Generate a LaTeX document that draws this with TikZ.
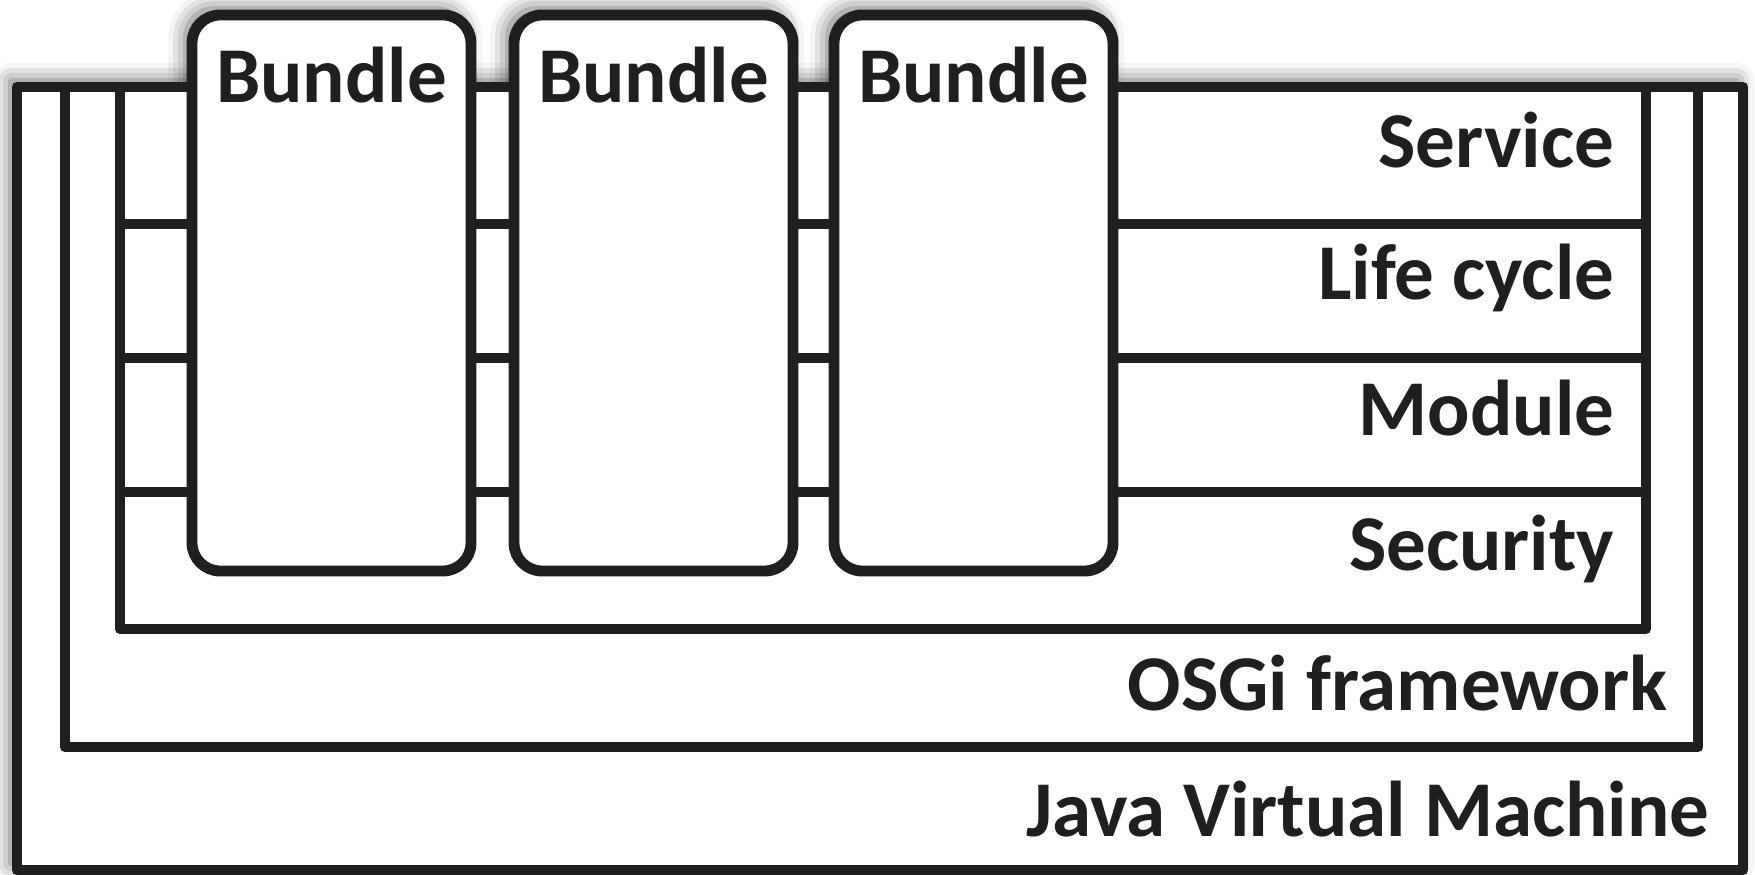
\documentclass[tikz,border=0pt]{standalone}
\usepackage{fontspec}
\setmainfont{Carlito}
\usetikzlibrary{shadows.blur}
\definecolor{FrameInk}{HTML}{1F1F1F}

\begin{document}
\begin{tikzpicture}[x=0.1mm,y=-0.1mm,
  box/.style={draw=FrameInk,line width=3.1pt,line join=round},
  bundlebox/.style={box,fill=white,rounded corners=8pt},
  soft/.style={blur shadow={shadow xshift=-1.8pt,shadow yshift=1.8pt,shadow blur radius=5pt,shadow opacity=60}},
  lbl/.style={font=\fontsize{22.5}{27}\selectfont\bfseries,text=FrameInk,inner sep=0pt}]
\useasboundingbox (0,0) rectangle (1755,875);
% shadows of the bundles go underneath everything
\foreach \x in {192,514,834}
  \path[soft,rounded corners=8pt] (\x,15) rectangle ++(279,556);
% JVM, framework and layer frames
\draw[box,fill=white,soft] (17,87) rectangle (1743,870);
\draw[box] (65,87) rectangle (1698,747);
\draw[box] (120,87) rectangle (1646,629);
\foreach \y in {224,358,492}
  \draw[box] (120,\y) -- (1646,\y);
% bundles on top
\foreach \x/\n in {192/1,514/2,834/3} {
  \draw[bundlebox] (\x,15) rectangle ++(279,556);
  \node[lbl,anchor=base] (bundle\n) at (\x+139.5,103) {Bundle};
}
\node[lbl,anchor=base east] (service) at (1615,168) {Service};
\node[lbl,anchor=base east] (lifecycle) at (1615,300) {Life cycle};
\node[lbl,anchor=base east] (module) at (1615,436) {Module};
\node[lbl,anchor=base east] (security) at (1615,571) {Security};
\node[lbl,anchor=base east] (osgi) at (1668,711) {OSGi framework};
\node[lbl,anchor=base east] (jvm) at (1710,837) {Java Virtual Machine};
\end{tikzpicture}
\end{document}
